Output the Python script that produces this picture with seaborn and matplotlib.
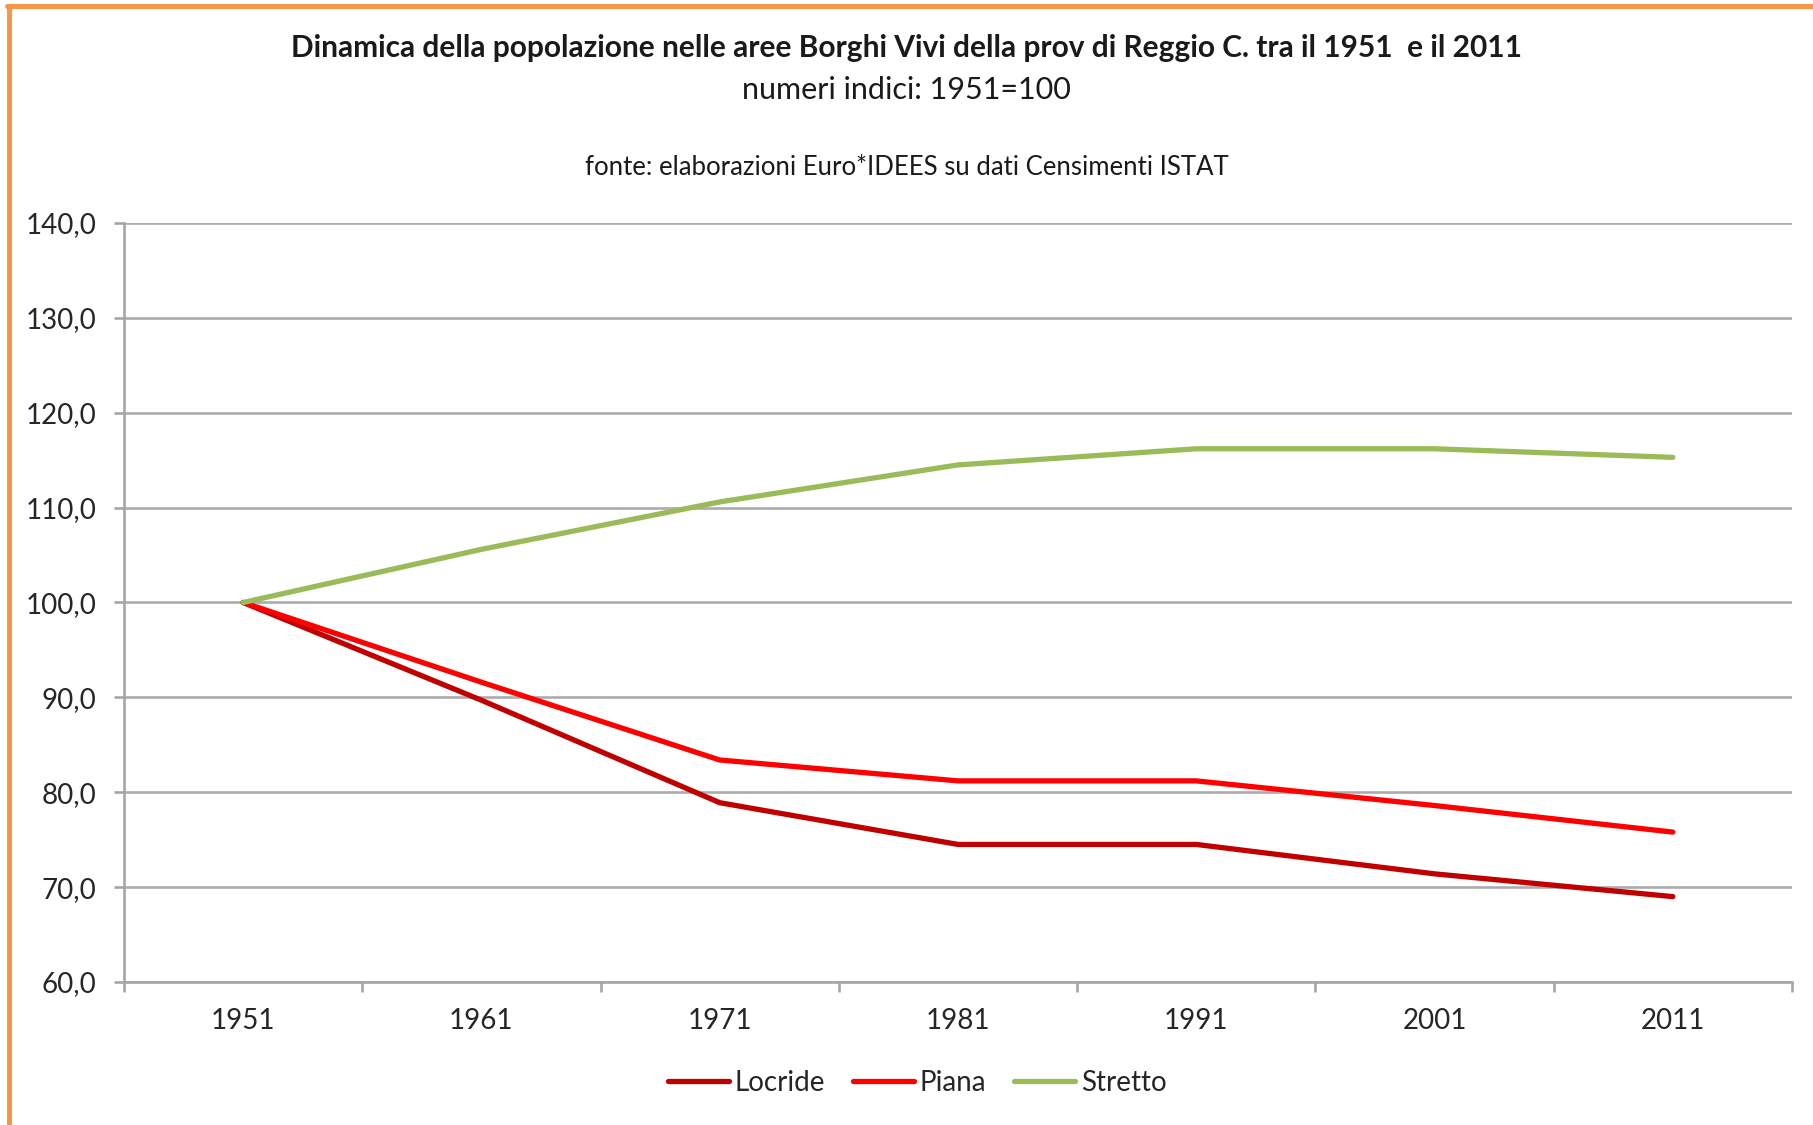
import pandas as pd
import matplotlib
matplotlib.use("Agg")
import matplotlib.pyplot as plt
from matplotlib.lines import Line2D
from matplotlib.ticker import FuncFormatter, FixedLocator
import seaborn as sns

# --- dati (numeri indici, 1951 = 100) ---
anni = [1951, 1961, 1971, 1981, 1991, 2001, 2011]
locride = [100.0, 89.7, 78.9, 74.5, 74.5, 71.4, 69.0]
piana = [100.0, 91.6, 83.4, 81.2, 81.2, 78.6, 75.8]
stretto = [100.0, 105.6, 110.6, 114.5, 116.2, 116.2, 115.3]

aree = ["Locride", "Piana", "Stretto"]
colori = ["#C00000", "#FF0000", "#9BBB59"]

titolo = "Dinamica della popolazione nelle aree Borghi Vivi della prov di Reggio C. tra il 1951  e il 2011"
sottotitolo = "numeri indici: 1951=100"
fonte = "fonte: elaborazioni Euro*IDEES su dati Censimenti ISTAT"

df = pd.DataFrame({
    "Anno": anni * 3,
    "Indice": locride + piana + stretto,
    "Area": [a for a in aree for _ in anni],
})

sns.set_style("white")
plt.rcParams["font.family"] = ["Lato", "DejaVu Sans"]

fig = plt.figure(figsize=(18.13, 11.25), dpi=100)
ax = fig.add_axes([0.0684, 0.1271, 0.92, 0.6747])

sns.lineplot(data=df, x="Anno", y="Indice", hue="Area", hue_order=aree,
             palette=colori, linewidth=3.8, ax=ax, legend=False)

ax.set_xlim(1946, 2016)
ax.set_ylim(60, 140)
ax.set_xlabel("")
ax.set_ylabel("")

# assi e griglia in stile Excel
ax.set_yticks(range(60, 141, 10))
ax.yaxis.set_major_formatter(FuncFormatter(lambda v, p: f"{v:.1f}".replace(".", ",")))
ax.set_xticks(anni)
ax.set_xticklabels([str(a) for a in anni])
ax.xaxis.set_minor_locator(FixedLocator([a - 5 for a in anni] + [anni[-1] + 5]))
ax.grid(axis="y", color="#ABABAB", linewidth=1.9)
ax.set_axisbelow(True)
for s in ["top", "right"]:
    ax.spines[s].set_visible(False)
for s in ["left", "bottom"]:
    ax.spines[s].set_color("#A6A6A6")
    ax.spines[s].set_linewidth(1.9)
ax.tick_params(axis="y", which="major", length=7, width=1.9, color="#A6A6A6",
               pad=13, labelsize=20, labelcolor="#262626", left=True)
ax.tick_params(axis="x", which="major", length=0, pad=19, labelsize=20, labelcolor="#262626")
ax.tick_params(axis="x", which="minor", length=7, width=1.9, color="#A6A6A6", bottom=True)

# titoli
fig.text(0.5, 0.957, titolo, ha="center", va="center", fontsize=21.5, fontweight="bold", color="#1a1a1a")
fig.text(0.5, 0.92, sottotitolo, ha="center", va="center", fontsize=22, color="#1a1a1a")
fig.text(0.5, 0.851, fonte, ha="center", va="center", fontsize=18.5, color="#1a1a1a")

# legenda
handles = [Line2D([0], [0], color=c, linewidth=3.8) for c in colori]
fig.legend(handles, aree, loc="center", bbox_to_anchor=(0.506, 0.0373), ncol=3,
           frameon=False, fontsize=20, handlelength=2.2, handletextpad=0.2,
           columnspacing=1.0, labelcolor="#262626")

# bordo arancione del grafico
fig.add_artist(Line2D([0.004, 1.0], [1 - 6 / 1125, 1 - 6 / 1125], transform=fig.transFigure,
                      color="#F79646", linewidth=3.6))
fig.add_artist(Line2D([9 / 1813, 9 / 1813], [0.0, 1 - 6 / 1125], transform=fig.transFigure,
                      color="#F79646", linewidth=3.6))

fig.savefig("out.png", dpi=100)
